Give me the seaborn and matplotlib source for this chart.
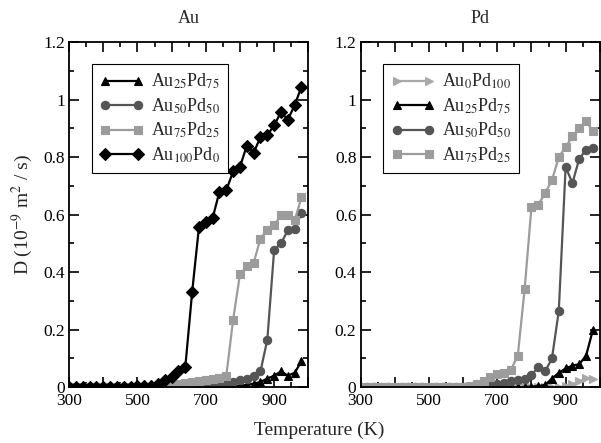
import numpy as np
import pandas as pd
import matplotlib
matplotlib.use('Agg')
import matplotlib.pyplot as plt
from matplotlib.ticker import MultipleLocator, FixedLocator, FixedFormatter
import seaborn as sns

sns.set_style('ticks')
plt.rcParams['font.family'] = ['Liberation Serif', 'DejaVu Serif']
plt.rcParams['mathtext.fontset'] = 'stix'

# temperature grid (K)
temps = [300, 320, 340, 360, 380, 400, 420, 440, 460, 480, 500, 520, 540, 560, 580,
         600, 620, 640, 660, 680, 700, 720, 740, 760, 780, 800, 820, 840, 860, 880,
         900, 920, 940, 960, 980]

# Au panel (10^-9 m^2/s)
au_au25 = [0]*24 + [0.002, 0.005, 0.008, 0.012, 0.018, 0.03, 0.04, 0.055, 0.04, 0.05, 0.09]
au_au50 = [0]*20 + [0.004, 0.007, 0.01, 0.014, 0.018, 0.024, 0.03, 0.038, 0.055, 0.165,
                    0.477, 0.50, 0.545, 0.55, 0.605]
au_au75 = [0]*10 + [0.001, 0.001, 0.002, 0.003, 0.005, 0.008, 0.012, 0.015, 0.018, 0.02,
                    0.024, 0.028, 0.032, 0.04, 0.235, 0.393, 0.42, 0.432, 0.517, 0.546,
                    0.563, 0.598, 0.598, 0.58, 0.66]
au_au100 = [0]*6 + [0.001, 0.001, 0.002, 0.002, 0.003, 0.004, 0.005, 0.01, 0.025, 0.036,
                    0.058, 0.07, 0.33, 0.557, 0.575, 0.588, 0.68, 0.685, 0.75, 0.766,
                    0.84, 0.815, 0.87, 0.877, 0.91, 0.957, 0.93, 0.98, 1.045]

# Pd panel
pd_au0 = [0]*30 + [0.004, 0.01, 0.02, 0.032, 0.027]
pd_au25 = [0]*25 + [0.002, 0.004, 0.008, 0.03, 0.05, 0.065, 0.075, 0.08, 0.11, 0.20]
pd_au50 = [0]*18 + [0.003, 0.007, 0.011, 0.015, 0.02, 0.025, 0.03, 0.042, 0.07, 0.055,
                    0.10, 0.265, 0.765, 0.71, 0.795, 0.825, 0.83]
pd_au75 = [0]*16 + [0.005, 0.01, 0.02, 0.035, 0.045, 0.05, 0.06, 0.11, 0.34, 0.627,
                    0.635, 0.675, 0.72, 0.80, 0.835, 0.873, 0.90, 0.925, 0.89]

BLACK, DARK, LIGHT = '#000000', '#555555', '#9c9c9c'

left_series = [
    (au_au25, 'Au$_{25}$Pd$_{75}$', BLACK, '^'),
    (au_au50, 'Au$_{50}$Pd$_{50}$', DARK, 'o'),
    (au_au75, 'Au$_{75}$Pd$_{25}$', LIGHT, 's'),
    (au_au100, 'Au$_{100}$Pd$_{0}$', BLACK, 'D'),
]
right_series = [
    (pd_au0, 'Au$_{0}$Pd$_{100}$', '#a8a8a8', '>'),
    (pd_au25, 'Au$_{25}$Pd$_{75}$', BLACK, '^'),
    (pd_au50, 'Au$_{50}$Pd$_{50}$', DARK, 'o'),
    (pd_au75, 'Au$_{75}$Pd$_{25}$', LIGHT, 's'),
]

fig = plt.figure(figsize=(6.01, 4.43), dpi=100)
ax1 = fig.add_axes([0.115, 0.126, 0.398, 0.779])
ax2 = fig.add_axes([0.600, 0.126, 0.398, 0.779])

for ax, series, title in [(ax1, left_series, 'Au'), (ax2, right_series, 'Pd')]:
    for vals, lab, col, mk in series:
        df = pd.DataFrame({'T': temps, 'D': vals})
        sns.lineplot(data=df, x='T', y='D', ax=ax, color=col, marker=mk, markersize=6,
                     markeredgecolor=col, markeredgewidth=0.8, linewidth=1.6, label=lab)
    ax.set_xlim(300, 1000)
    ax.set_ylim(0, 1.2)
    ax.xaxis.set_major_locator(FixedLocator([300, 400, 500, 600, 700, 800, 900, 1000]))
    ax.xaxis.set_major_formatter(FixedFormatter(['300', '', '500', '', '700', '', '900', '']))
    ax.xaxis.set_minor_locator(MultipleLocator(50))
    ax.yaxis.set_major_locator(FixedLocator([0, 0.2, 0.4, 0.6, 0.8, 1.0, 1.2]))
    ax.yaxis.set_major_formatter(FixedFormatter(['0', '0.2', '0.4', '0.6', '0.8', '1', '1.2']))
    ax.yaxis.set_minor_locator(MultipleLocator(0.1))
    ax.tick_params(which='both', direction='in', top=True, right=True, labelsize=12.5,
                   width=1.2, colors='black')
    ax.tick_params(which='major', length=7)
    ax.tick_params(axis='x', which='major', pad=4)
    ax.tick_params(axis='y', which='major', pad=3)
    ax.tick_params(which='minor', length=3.5)
    for sp in ax.spines.values():
        sp.set_linewidth(1.3)
        sp.set_color('black')
    ax.set_xlabel('')
    ax.set_ylabel('')
    ax.set_title(title, fontsize=13, pad=14)
    leg = ax.legend(loc='upper left', bbox_to_anchor=(0.095, 0.937), borderaxespad=0,
                    numpoints=2, handlelength=2.4, fontsize=13, frameon=True, fancybox=False,
                    framealpha=1, edgecolor='black', labelspacing=0.28, handletextpad=0.4,
                    borderpad=0.45)
    leg.get_frame().set_linewidth(0.8)

ax1.set_ylabel('D (10$^{-9}$ m$^{2}$ / s)', fontsize=14, labelpad=6)
fig.text(0.531, 0.008, 'Temperature (K)', ha='center', va='bottom', fontsize=14)

fig.savefig('out.png', dpi=100)
